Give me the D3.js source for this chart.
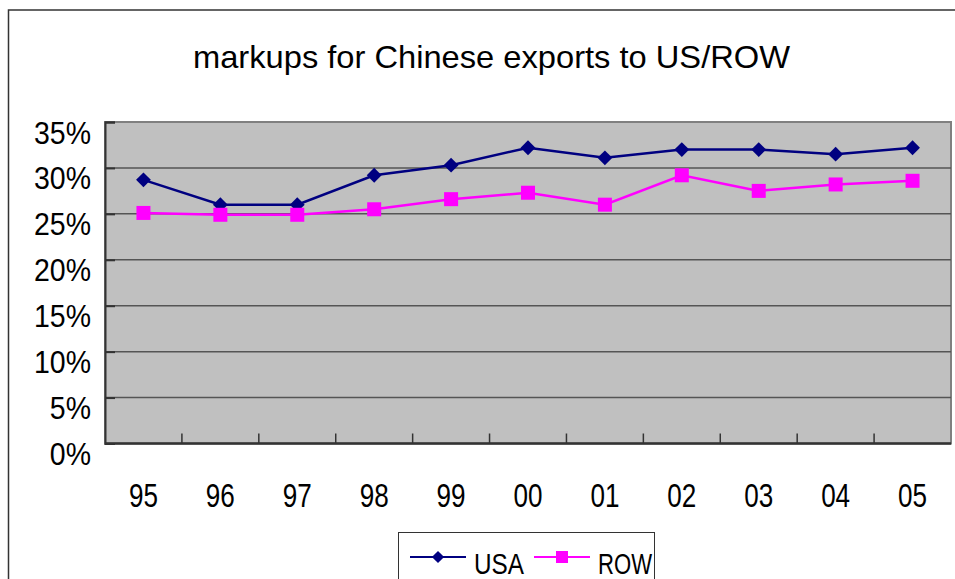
<!DOCTYPE html>
<html>
<head>
<meta charset="utf-8">
<script src="https://cdn.jsdelivr.net/npm/d3@7"></script>
<style>
  body { margin: 0; background: #fff; }
  svg text { font-family: "Liberation Sans", Arial, sans-serif; fill: #000; }
</style>
</head>
<body>
<div id="chart-area"></div>
<script>
// data
var years = ["95", "96", "97", "98", "99", "00", "01", "02", "03", "04", "05"];
var usa = [0.287, 0.260, 0.260, 0.292, 0.303, 0.322, 0.311, 0.320, 0.320, 0.315, 0.322];
var row = [0.251, 0.249, 0.249, 0.255, 0.266, 0.273, 0.260, 0.292, 0.275, 0.282, 0.286];
var yTicks = [0, 0.05, 0.10, 0.15, 0.20, 0.25, 0.30, 0.35];
var seriesNames = ["USA", "ROW"];

var w = 955;
var h = 579;
var plot = { left: 105, right: 951, top: 122, bottom: 443.5 };

var svg = d3.select("#chart-area").append("svg")
    .attr("width", w)
    .attr("height", h);

// squeeze a text horizontally, like the narrow glyphs of the original
function squeeze(sel, k) {
    sel.each(function() {
        var len = this.getComputedTextLength();
        d3.select(this)
            .attr("textLength", len * k)
            .attr("lengthAdjust", "spacingAndGlyphs");
    });
}

// outer frame (runs off the right and bottom edges)
svg.append("rect")
    .attr("x", 8.5)
    .attr("y", 10)
    .attr("width", 1000)
    .attr("height", 700)
    .attr("fill", "#fff")
    .attr("stroke", "#333")
    .attr("stroke-width", 1.5);

// title
svg.append("text")
    .attr("x", 193)
    .attr("y", 68)
    .attr("font-size", "32px")
    .attr("textLength", 597)
    .attr("lengthAdjust", "spacingAndGlyphs")
    .text("markups for Chinese exports to US/ROW");

var x = d3.scaleBand()
    .domain(years)
    .range([plot.left, plot.right]);

var y = d3.scaleLinear()
    .domain([0, 0.35])
    .range([plot.bottom, plot.top]);

// plot background
svg.append("rect")
    .attr("x", plot.left)
    .attr("y", plot.top)
    .attr("width", plot.right - plot.left)
    .attr("height", plot.bottom - plot.top)
    .attr("fill", "#c0c0c0")
    .attr("stroke", "#808080")
    .attr("stroke-width", 2);

// gridlines
svg.append("g")
    .selectAll("line")
    .data(yTicks.slice(1, -1))
    .enter()
    .append("line")
        .attr("x1", plot.left)
        .attr("x2", plot.right)
        .attr("y1", (d) => y(d))
        .attr("y2", (d) => y(d))
        .attr("stroke", "#555")
        .attr("stroke-width", 1.5);

// y axis: line, inner ticks, labels
var left = d3.axisLeft(y)
    .tickValues(yTicks)
    .tickSize(-10)
    .tickPadding(14)
    .tickFormat(d3.format(".0%"));

var yAxis = svg.append("g")
    .attr("transform", "translate(" + plot.left + ",0)")
    .call(left);
yAxis.select(".domain").attr("stroke", "#333").attr("stroke-width", 2);
yAxis.selectAll(".tick line").attr("stroke", "#333").attr("stroke-width", 2);
yAxis.selectAll("text")
    .attr("font-size", "32px")
    .attr("font-family", "Liberation Sans, Arial, sans-serif")
    .attr("dy", "21px")
    .call(squeeze, 0.89);

// x axis: ticks sit at category boundaries
var boundaries = years.slice(1).map((d) => x(d));
svg.append("g")
    .selectAll("line")
    .data(boundaries)
    .enter()
    .append("line")
        .attr("x1", (d) => d)
        .attr("x2", (d) => d)
        .attr("y1", plot.bottom)
        .attr("y2", plot.bottom - 10)
        .attr("stroke", "#333")
        .attr("stroke-width", 1.5);

svg.append("line")
    .attr("x1", plot.left)
    .attr("x2", plot.right)
    .attr("y1", plot.bottom)
    .attr("y2", plot.bottom)
    .attr("stroke", "#333")
    .attr("stroke-width", 2.5);

svg.append("g")
    .selectAll("text")
    .data(years)
    .enter()
    .append("text")
        .attr("x", (d) => x(d) + x.bandwidth() / 2)
        .attr("y", 507)
        .attr("font-size", "33px")
        .attr("text-anchor", "middle")
        .attr("textLength", 29)
        .attr("lengthAdjust", "spacingAndGlyphs")
        .text((d) => d);

// lines
var cx = (d, i) => x(years[i]) + x.bandwidth() / 2;
var line = d3.line()
    .x(cx)
    .y((d) => y(d));

var colors = ["#000080", "#ff00ff"];
var allSeries = [usa, row];

allSeries.forEach((s, k) => {
    svg.append("path")
        .datum(s)
        .attr("d", line)
        .attr("fill", "none")
        .attr("stroke", colors[k])
        .attr("stroke-width", 2.5);
});

var diamond = d3.symbol().type(d3.symbolSquare).size(110);

svg.append("g")
    .selectAll("path")
    .data(usa)
    .enter()
    .append("path")
        .attr("d", diamond)
        .attr("transform", (d, i) => "translate(" + cx(d, i) + "," + y(d) + ") rotate(45)")
        .attr("fill", colors[0]);

svg.append("g")
    .selectAll("rect")
    .data(row)
    .enter()
    .append("rect")
        .attr("x", (d, i) => cx(d, i) - 7)
        .attr("y", (d) => y(d) - 7)
        .attr("width", 14)
        .attr("height", 14)
        .attr("fill", colors[1]);

// legend
var legend = svg.append("g");
legend.append("rect")
    .attr("x", 398.5)
    .attr("y", 532.5)
    .attr("width", 256)
    .attr("height", 60)
    .attr("fill", "#fff")
    .attr("stroke", "#333")
    .attr("stroke-width", 1);

var legendX = [410, 534];
var legendY = 557;
seriesNames.forEach((name, k) => {
    var lx = legendX[k];
    legend.append("line")
        .attr("x1", lx)
        .attr("x2", lx + 56)
        .attr("y1", legendY)
        .attr("y2", legendY)
        .attr("stroke", colors[k])
        .attr("stroke-width", 2);
    if (k === 0) {
        legend.append("path")
            .attr("d", d3.symbol().type(d3.symbolSquare).size(75))
            .attr("transform", "translate(" + (lx + 28) + "," + legendY + ") rotate(45)")
            .attr("fill", colors[k]);
    } else {
        legend.append("rect")
            .attr("x", lx + 28 - 6)
            .attr("y", legendY - 6)
            .attr("width", 12)
            .attr("height", 12)
            .attr("fill", colors[k]);
    }
});

legend.append("text")
    .attr("x", 474)
    .attr("y", 574)
    .attr("font-size", "29px")
    .attr("textLength", 50)
    .attr("lengthAdjust", "spacingAndGlyphs")
    .text(seriesNames[0]);

legend.append("text")
    .attr("x", 598)
    .attr("y", 574)
    .attr("font-size", "29px")
    .attr("textLength", 54)
    .attr("lengthAdjust", "spacingAndGlyphs")
    .text(seriesNames[1]);
</script>
</body>
</html>
